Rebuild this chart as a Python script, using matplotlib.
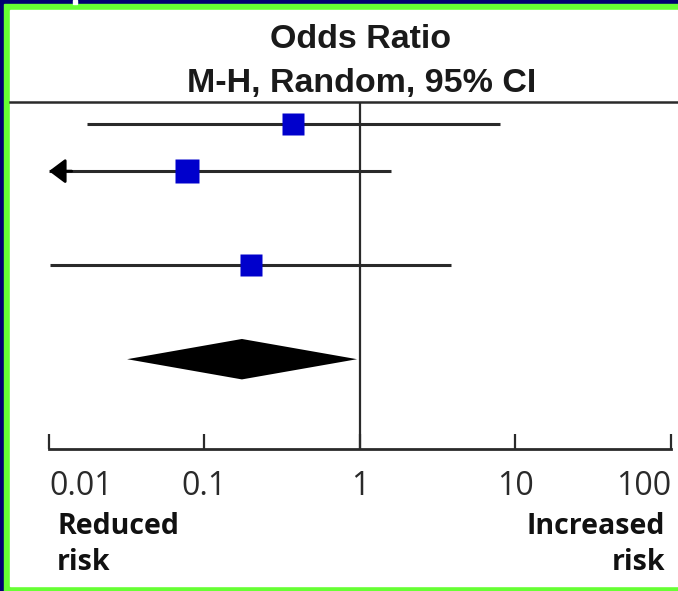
import numpy as np
import matplotlib
matplotlib.use("Agg")
import matplotlib.pyplot as plt
from matplotlib.patches import Rectangle
from matplotlib.lines import Line2D

# study rows (odds ratio and 95% CI)
row_pos = [0, 1, 3]
or_est = [0.37, 0.077, 0.20]
ci_low = [0.0175, 0.005, 0.0102]
ci_high = [8.0, 1.58, 3.85]
box_size = [16, 17, 16]

# pooled estimate (diamond)
pooled_pos = 5
pooled_est = 0.174
pooled_low = 0.0318
pooled_high = 0.957

ticks = [0.01, 0.1, 1, 10, 100]
tick_labels = ["0.01", "0.1", "1", "10", "100"]

W, H = 678, 591
fig = plt.figure(figsize=(W / 100, H / 100), dpi=100)
fig.patch.set_facecolor("#000070")


def fx(px):
    return px / W


def fy(py):
    return 1 - py / H


# frame: green border + white panel
fig.patches.append(Rectangle((fx(3.5), fy(591)), fx(678 - 3.5), 1 - 3.5 / H,
                             transform=fig.transFigure, color="#66ff33", zorder=-2))
fig.patches.append(Rectangle((fx(10), fy(586)), fx(678 - 10), (586 - 10) / H,
                             transform=fig.transFigure, color="white", zorder=-1))
fig.patches.append(Rectangle((fx(73), fy(3.5)), fx(4), 3.5 / H,
                             transform=fig.transFigure, color="white", zorder=-1))

# axes: 0.01 at x=49px, 100 at x=671px, top line y=102, axis y=449
ax = fig.add_axes([fx(49), fy(449), fx(622), (449 - 102) / H])
ax.patch.set_alpha(0)
ax.set_xscale("log")
ax.set_xlim(0.01, 100)
ax.set_ylim(6.91, -0.47)

line_col = "#2a2a2a"
xmin = ax.get_xlim()[0]
for y, est, lo, hi, ms in zip(row_pos, or_est, ci_low, ci_high, box_size):
    lo_c = max(lo, xmin)
    ax.plot([lo_c, hi], [y, y], color=line_col, lw=2.2, solid_capstyle="butt", zorder=2)
    if lo < xmin:
        ax.annotate("", xy=(xmin, y), xytext=(xmin * 1.4, y),
                    arrowprops=dict(arrowstyle="-|>,head_length=1.0,head_width=0.75",
                                    color="black", lw=2, shrinkA=0, shrinkB=0),
                    annotation_clip=False, zorder=3)
    ax.plot(est, y, marker="s", ms=ms, color="#0000cc", mec="none", zorder=4)

ax.fill([pooled_low, pooled_est, pooled_high, pooled_est],
        [pooled_pos, pooled_pos - 0.43, pooled_pos, pooled_pos + 0.43],
        color="black", lw=0, zorder=3)

ax.axvline(1, color=line_col, lw=1.6, zorder=1)

for s in ["top", "left", "right"]:
    ax.spines[s].set_visible(False)
ax.spines["bottom"].set_linewidth(2)
ax.spines["bottom"].set_color(line_col)
ax.set_yticks([])
ax.set_xticks(ticks)
ax.set_xticklabels(tick_labels)
ax.xaxis.set_minor_locator(matplotlib.ticker.NullLocator())
ax.tick_params(axis="x", direction="in", length=11, width=1.6, color=line_col,
               pad=15, labelsize=23, labelcolor="#2a2a2a")
for t in ax.get_xticklabels():
    t.set_fontfamily("Open Sans")
labs = ax.get_xticklabels()
labs[0].set_horizontalalignment("left")
labs[-1].set_horizontalalignment("right")

# top rule across the panel
fig.add_artist(Line2D([fx(10), fx(678)], [fy(102), fy(102)], color=line_col, lw=1.8))

title_kw = dict(ha="center", va="baseline", fontsize=24.5, fontweight="bold",
                family="Liberation Sans", color="#1a1a1a")
fig.text(fx(361), fy(48), "Odds Ratio", **title_kw)
fig.text(fx(362), fy(92), "M-H, Random, 95% CI", **title_kw)

side_kw = dict(va="baseline", fontsize=20.5, fontweight="bold",
               family="Open Sans", color="#111111")
fig.text(fx(57), fy(534), "Reduced", ha="left", **side_kw)
fig.text(fx(57), fy(570), "risk", ha="left", **side_kw)
fig.text(fx(665), fy(534), "Increased", ha="right", **side_kw)
fig.text(fx(665), fy(570), "risk", ha="right", **side_kw)

fig.savefig("out.png", dpi=100, facecolor=fig.get_facecolor())
